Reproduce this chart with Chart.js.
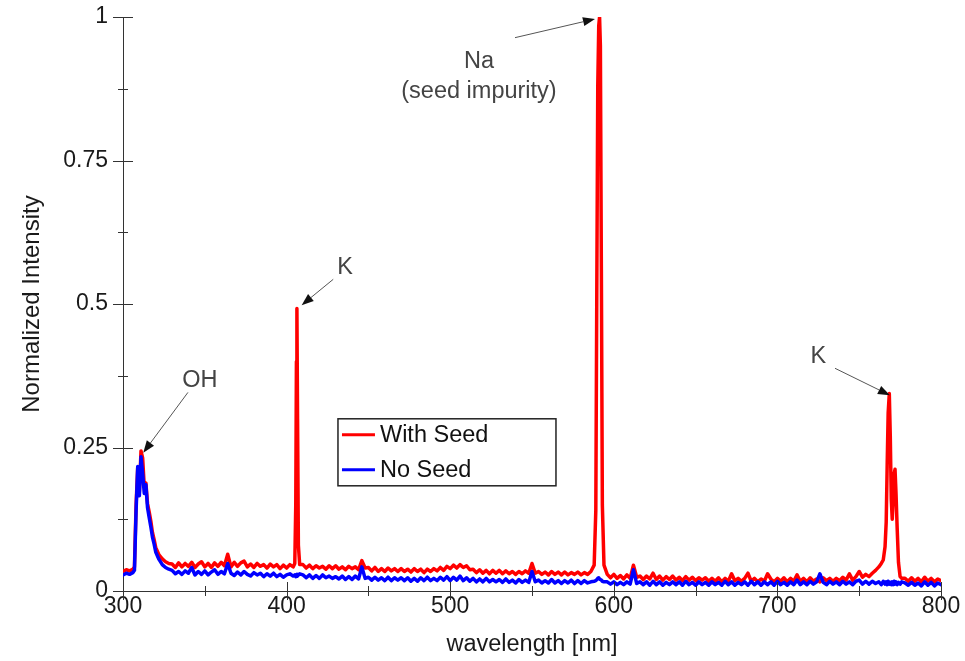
<!DOCTYPE html>
<html lang="en">
<head>
<meta charset="UTF-8">
<title>Emission spectrum - seeded vs. unseeded</title>
<script src="https://cdn.jsdelivr.net/npm/chart.js"></script>
<style>
    html, body { margin: 0; padding: 0; background: #ffffff; }
    #wrap { width: 965px; height: 661px; }
</style>
</head>
<body>
<div id="wrap"><canvas id="spectrumChart"></canvas></div>
<script>
// Wavelength (nm); finer steps around the OH, K and Na lines
var wavelength = [
    300, 302, 304, 306, 307, 308, 309, 310, 311, 312,
    313, 314, 315, 316, 317, 318, 319, 320, 322, 324,
    326, 328,
    330, 332, 334, 336, 338, 340, 342, 344, 346, 348,
    350, 352, 354, 356, 358, 360, 362, 364, 366, 368,
    370, 372, 374, 376, 378, 380, 382, 384, 386, 388,
    390, 392, 394, 396, 398, 400, 402,
    404, 405, 405.6, 406, 406.3, 406.7, 407.2, 408,
    410, 412, 414, 416, 418, 420, 422, 424, 426, 428,
    430, 432, 434, 436, 438, 440, 442, 444, 446, 448,
    450, 452, 454, 456, 458, 460, 462, 464, 466, 468,
    470, 472, 474, 476, 478, 480, 482, 484, 486, 488,
    490, 492, 494, 496, 498, 500, 502, 504, 506, 508,
    510, 512, 514, 516, 518, 520, 522, 524, 526, 528,
    530, 532, 534, 536, 538, 540, 542, 544, 546, 548,
    550, 552, 554, 556, 558, 560, 562, 564, 566, 568,
    570, 572, 574, 576, 578, 580, 582, 584, 586,
    588, 589, 589.6, 590.2, 590.8, 591.3, 591.8, 592.4, 593, 594,
    596, 598, 600, 602, 604, 606, 608, 610, 612, 614,
    616, 618, 620, 622, 624, 626, 628, 630, 632, 634,
    636, 638, 640, 642, 644, 646, 648, 650, 652, 654,
    656, 658, 660, 662, 664, 666, 668, 670, 672, 674,
    676, 678, 680, 682, 684, 686, 688, 690, 692, 694,
    696, 698, 700, 702, 704, 706, 708, 710, 712, 714,
    716, 718, 720, 722, 724, 726, 728, 730, 732, 734,
    736, 738, 740, 742, 744, 746, 748, 750, 752, 754,
    756, 758, 760,
    762, 763.5, 764.7, 765.8, 766.5, 767.1, 767.7, 768.4, 769, 769.6,
    770.2, 770.8, 771.4, 771.9, 772.5, 773.2, 774, 775, 776,
    778, 780, 782, 784, 786, 788, 790, 792, 794, 796,
    798, 800
];

// Normalized intensity, flame seeded with potassium
var withSeed = [
    0.034, 0.037, 0.035, 0.038, 0.042, 0.150, 0.215, 0.172, 0.244, 0.232,
    0.182, 0.188, 0.152, 0.138, 0.122, 0.102, 0.090, 0.076, 0.063, 0.056,
    0.051, 0.048,
    0.047, 0.041, 0.049, 0.042, 0.048, 0.043, 0.050, 0.041, 0.047, 0.051,
    0.042, 0.048, 0.041, 0.049, 0.043, 0.050, 0.044, 0.064, 0.042, 0.050,
    0.043, 0.049, 0.052, 0.042, 0.047, 0.041, 0.048, 0.043, 0.046, 0.040,
    0.047, 0.042, 0.046, 0.039, 0.045, 0.040, 0.046,
    0.042, 0.048, 0.150, 0.400, 0.492, 0.300, 0.080, 0.046,
    0.046, 0.040, 0.045, 0.039, 0.044, 0.040, 0.043, 0.038, 0.044, 0.039,
    0.044, 0.038, 0.042, 0.037, 0.043, 0.039, 0.042, 0.037, 0.053, 0.040,
    0.041, 0.035, 0.041, 0.034, 0.039, 0.034, 0.040, 0.035, 0.039, 0.034,
    0.039, 0.034, 0.038, 0.033, 0.039, 0.034, 0.038, 0.032, 0.038, 0.034,
    0.039, 0.035, 0.041, 0.036, 0.043, 0.039, 0.045, 0.040, 0.046, 0.041,
    0.044, 0.037, 0.038, 0.032, 0.037, 0.031, 0.036, 0.030, 0.036, 0.031,
    0.036, 0.030, 0.035, 0.030, 0.034, 0.029, 0.034, 0.030, 0.035, 0.031,
    0.048, 0.031, 0.034, 0.029, 0.033, 0.028, 0.034, 0.029, 0.033, 0.028,
    0.033, 0.028, 0.032, 0.029, 0.033, 0.028, 0.032, 0.029, 0.034,
    0.045, 0.140, 0.520, 0.880, 0.985, 1.000, 0.950, 0.560, 0.150, 0.045,
    0.029, 0.023, 0.029, 0.022, 0.027, 0.021, 0.028, 0.022, 0.045, 0.024,
    0.026, 0.020, 0.026, 0.021, 0.031, 0.020, 0.026, 0.019, 0.025, 0.020,
    0.026, 0.019, 0.024, 0.018, 0.025, 0.019, 0.024, 0.018, 0.023, 0.019,
    0.023, 0.017, 0.022, 0.017, 0.023, 0.016, 0.022, 0.017, 0.030, 0.018,
    0.022, 0.017, 0.022, 0.031, 0.017, 0.022, 0.016, 0.021, 0.017, 0.030,
    0.021, 0.016, 0.022, 0.017, 0.023, 0.016, 0.022, 0.017, 0.028, 0.017,
    0.022, 0.016, 0.023, 0.017, 0.021, 0.016, 0.023, 0.018, 0.022, 0.017,
    0.022, 0.018, 0.024, 0.019, 0.030, 0.019, 0.025, 0.034, 0.024, 0.029,
    0.025, 0.031, 0.036,
    0.042, 0.048, 0.054, 0.077, 0.120, 0.220, 0.310, 0.344, 0.270, 0.160,
    0.125, 0.160, 0.205, 0.212, 0.170, 0.110, 0.050, 0.025, 0.022,
    0.022, 0.017, 0.023, 0.017, 0.022, 0.016, 0.024, 0.017, 0.022, 0.016,
    0.021, 0.018
];

// Normalized intensity, unseeded flame
var noSeed = [
    0.028, 0.031, 0.029, 0.032, 0.036, 0.140, 0.217, 0.166, 0.234, 0.205,
    0.170, 0.185, 0.145, 0.128, 0.112, 0.094, 0.082, 0.068, 0.055, 0.046,
    0.041, 0.038,
    0.036, 0.030, 0.034, 0.029, 0.035, 0.031, 0.041, 0.028, 0.034, 0.029,
    0.035, 0.028, 0.033, 0.037, 0.029, 0.034, 0.030, 0.048, 0.031, 0.027,
    0.033, 0.028, 0.034, 0.029, 0.026, 0.032, 0.028, 0.031, 0.025, 0.030,
    0.026, 0.031, 0.025, 0.029, 0.024, 0.028, 0.030,
    0.026, 0.028, 0.025, 0.027, 0.029, 0.026, 0.028, 0.030,
    0.028, 0.023, 0.028, 0.022, 0.027, 0.022, 0.028, 0.023, 0.026, 0.022,
    0.025, 0.021, 0.026, 0.020, 0.025, 0.020, 0.026, 0.021, 0.042, 0.022,
    0.024, 0.019, 0.024, 0.019, 0.023, 0.018, 0.024, 0.018, 0.023, 0.019,
    0.023, 0.018, 0.023, 0.017, 0.022, 0.017, 0.023, 0.018, 0.024, 0.018,
    0.022, 0.018, 0.024, 0.019, 0.025, 0.018, 0.024, 0.019, 0.026, 0.018,
    0.023, 0.017, 0.022, 0.016, 0.021, 0.016, 0.022, 0.016, 0.020, 0.016,
    0.020, 0.015, 0.021, 0.015, 0.019, 0.014, 0.020, 0.015, 0.019, 0.015,
    0.034, 0.016, 0.019, 0.014, 0.018, 0.014, 0.020, 0.014, 0.018, 0.013,
    0.018, 0.014, 0.019, 0.013, 0.018, 0.013, 0.018, 0.014, 0.016,
    0.017, 0.018, 0.020, 0.022, 0.023, 0.021, 0.020, 0.019, 0.017, 0.016,
    0.016, 0.012, 0.016, 0.011, 0.015, 0.011, 0.016, 0.012, 0.037, 0.013,
    0.016, 0.011, 0.016, 0.010, 0.017, 0.011, 0.016, 0.010, 0.015, 0.011,
    0.016, 0.011, 0.016, 0.010, 0.017, 0.011, 0.015, 0.010, 0.016, 0.011,
    0.015, 0.010, 0.016, 0.011, 0.015, 0.010, 0.017, 0.011, 0.016, 0.010,
    0.015, 0.011, 0.016, 0.010, 0.017, 0.011, 0.016, 0.010, 0.016, 0.011,
    0.016, 0.010, 0.017, 0.011, 0.015, 0.010, 0.016, 0.011, 0.019, 0.011,
    0.016, 0.011, 0.017, 0.012, 0.016, 0.030, 0.015, 0.011, 0.017, 0.012,
    0.016, 0.011, 0.017, 0.012, 0.016, 0.011, 0.017, 0.019, 0.012, 0.017,
    0.012, 0.017, 0.013,
    0.016, 0.011, 0.017, 0.012, 0.016, 0.011, 0.017, 0.012, 0.015, 0.011,
    0.016, 0.011, 0.017, 0.012, 0.016, 0.011, 0.015, 0.012, 0.016,
    0.014, 0.010, 0.015, 0.010, 0.014, 0.009, 0.016, 0.010, 0.015, 0.009,
    0.014, 0.011
];

var seriesNames = ['With Seed', 'No Seed'];
var seriesColors = ['#ff0000', '#0000ff'];

// tick marks that cross the axes
var xMajorTicks = [300, 400, 500, 600, 700, 800];
var xMinorTicks = [350, 450, 550, 650, 750];
var yMajorTicks = [0, 0.25, 0.5, 0.75, 1];
var yMinorTicks = [0.125, 0.375, 0.625, 0.875];

// line labels: text position, arrow tail and arrow tip, all in (nm, intensity)
var lineLabels = [
    { text: ['OH'], at: [347, 0.366], from: [339.7, 0.346], to: [312.4, 0.241] },
    { text: ['K'], at: [435.7, 0.563], from: [428.5, 0.543], to: [409.2, 0.498] },
    { text: ['Na', '(seed impurity)'], at: [517.6, 0.923], from: [539.6, 0.964], to: [588.5, 0.9965] },
    { text: ['K'], at: [725, 0.408], from: [735.2, 0.388], to: [768.8, 0.341] }
];

var fontFamily = '"Liberation Sans", Arial, Helvetica, sans-serif';

function toPoints(values) {
    var pts = [];
    for (var i = 0; i < wavelength.length; i++) {
        pts.push({ x: wavelength[i], y: values[i] });
    }
    return pts;
}

function drawArrow(ctx, x1, y1, x2, y2) {
    var ang = Math.atan2(y2 - y1, x2 - x1);
    var len = 12, half = 4.5;
    var bx = x2 - len * Math.cos(ang), by = y2 - len * Math.sin(ang);
    ctx.strokeStyle = '#555';
    ctx.lineWidth = 1;
    ctx.beginPath();
    ctx.moveTo(x1, y1);
    ctx.lineTo(bx, by);
    ctx.stroke();
    ctx.fillStyle = '#111';
    ctx.beginPath();
    ctx.moveTo(x2, y2);
    ctx.lineTo(bx + half * Math.sin(ang), by - half * Math.cos(ang));
    ctx.lineTo(bx - half * Math.sin(ang), by + half * Math.cos(ang));
    ctx.closePath();
    ctx.fill();
}

// ticks, arrows, labels and the boxed legend
var decorations = {
    id: 'decorations',
    afterDraw: function (chart) {
        var ctx = chart.ctx;
        var xs = chart.scales.x, ys = chart.scales.y;
        var area = chart.chartArea;
        ctx.save();

        ctx.strokeStyle = '#333';
        ctx.lineWidth = 1;
        ctx.beginPath();
        xMajorTicks.forEach(function (v) {
            var px = Math.round(xs.getPixelForValue(v)) + 0.5;
            ctx.moveTo(px, area.bottom - 9); ctx.lineTo(px, area.bottom + 9);
        });
        xMinorTicks.forEach(function (v) {
            var px = Math.round(xs.getPixelForValue(v)) + 0.5;
            ctx.moveTo(px, area.bottom - 5); ctx.lineTo(px, area.bottom + 5);
        });
        yMajorTicks.forEach(function (v) {
            var py = Math.round(ys.getPixelForValue(v)) + 0.5;
            ctx.moveTo(area.left - 10, py); ctx.lineTo(area.left + 10, py);
        });
        yMinorTicks.forEach(function (v) {
            var py = Math.round(ys.getPixelForValue(v)) + 0.5;
            ctx.moveTo(area.left - 5, py); ctx.lineTo(area.left + 5, py);
        });
        ctx.stroke();

        // arrows pointing at the emission lines
        ctx.font = '23.5px ' + fontFamily;
        ctx.textAlign = 'center';
        ctx.textBaseline = 'middle';
        lineLabels.forEach(function (lb) {
            drawArrow(ctx,
                xs.getPixelForValue(lb.from[0]), ys.getPixelForValue(lb.from[1]),
                xs.getPixelForValue(lb.to[0]), ys.getPixelForValue(lb.to[1]));
            ctx.fillStyle = '#444';
            var tx = xs.getPixelForValue(lb.at[0]);
            var ty = ys.getPixelForValue(lb.at[1]);
            lb.text.forEach(function (line, i) {
                ctx.fillText(line, tx, ty + i * 30);
            });
        });

        // legend box
        var lx = xs.getPixelForValue(431.4), ly = ys.getPixelForValue(0.30);
        var lw = 218, lh = 67;
        ctx.fillStyle = '#fff';
        ctx.fillRect(lx, ly, lw, lh);
        ctx.strokeStyle = '#222';
        ctx.lineWidth = 1.5;
        ctx.strokeRect(lx, ly, lw, lh);
        ctx.textAlign = 'left';
        seriesNames.forEach(function (name, i) {
            var ry = ly + 16 + i * 35;
            ctx.strokeStyle = seriesColors[i];
            ctx.lineWidth = 3;
            ctx.beginPath();
            ctx.moveTo(lx + 4, ry); ctx.lineTo(lx + 37, ry);
            ctx.stroke();
            ctx.fillStyle = '#111';
            ctx.fillText(name, lx + 42, ry + 1);
        });

        ctx.restore();
    }
};

var tickFont = { family: fontFamily, size: 23 };

var ctxSpectrum = document.getElementById('spectrumChart').getContext('2d');
var spectrumChart = new Chart(ctxSpectrum, {
    type: 'line',
    data: {
        datasets: [{
            label: seriesNames[0],
            data: toPoints(withSeed),
            borderColor: seriesColors[0],
            order: 1
        }, {
            label: seriesNames[1],
            data: toPoints(noSeed),
            borderColor: seriesColors[1],
            order: 0
        }]
    },
    options: {
        responsive: true,
        maintainAspectRatio: false,
        animation: false,
        layout: { padding: { top: 17, right: 24, left: 0, bottom: 0 } },
        elements: {
            point: { radius: 0 },
            line: { borderWidth: 3.5, tension: 0, fill: false, borderJoinStyle: 'round', borderCapStyle: 'round' }
        },
        plugins: {
            legend: { display: false },
            tooltip: { enabled: false }
        },
        scales: {
            x: {
                type: 'linear',
                min: 300,
                max: 800,
                grid: { display: false, drawTicks: false },
                border: { display: true, color: '#333', width: 1 },
                ticks: { stepSize: 100, color: '#1a1a1a', font: tickFont, padding: 2, maxRotation: 0 },
                title: { display: true, text: 'wavelength [nm]', color: '#1a1a1a', font: { family: fontFamily, size: 23.5 }, padding: { top: 0, bottom: 2 } },
                afterFit: function (s) { s.height = 70; s.paddingLeft = 0; s.paddingRight = 0; }
            },
            y: {
                min: 0,
                max: 1,
                grid: { display: false, drawTicks: false },
                border: { display: true, color: '#333', width: 1 },
                ticks: {
                    stepSize: 0.25, color: '#1a1a1a', font: tickFont, padding: 15,
                    callback: function (value) { return String(value); }
                },
                title: { display: true, text: 'Normalized Intensity', color: '#1a1a1a', font: { family: fontFamily, size: 24 }, padding: { top: 18, bottom: 0 } },
                afterFit: function (s) { s.width = 123; s.paddingTop = 0; s.paddingBottom = 0; }
            }
        }
    },
    plugins: [decorations]
});
</script>
</body>
</html>
